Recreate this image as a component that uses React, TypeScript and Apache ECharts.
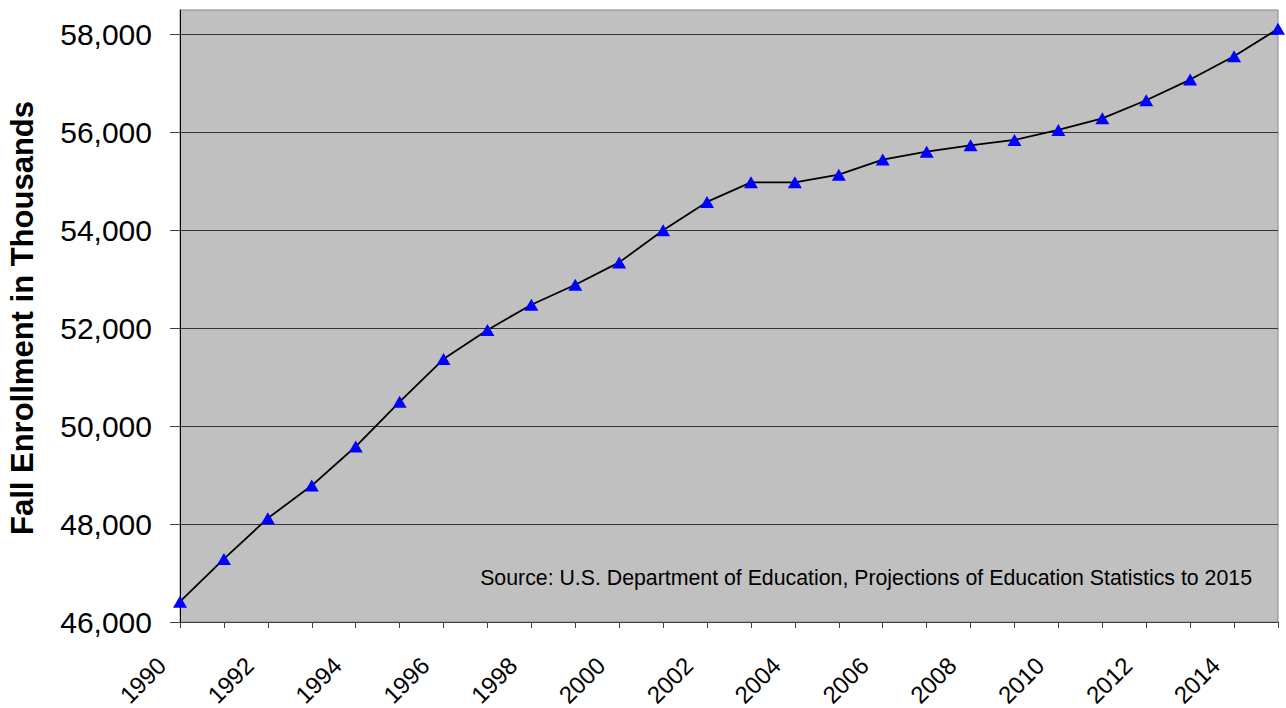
import React, { useEffect, useRef } from "react";
import * as echarts from "echarts";

const years = [
  "1990", "1991", "1992", "1993", "1994", "1995", "1996", "1997", "1998", "1999",
  "2000", "2001", "2002", "2003", "2004", "2005", "2006", "2007", "2008", "2009",
  "2010", "2011", "2012", "2013", "2014", "2015",
];
const enrollment = [
  46415, 47288, 48120, 48786, 49584, 50497, 51370, 51965, 52480, 52889,
  53345, 54000, 54580, 54980, 54980, 55137, 55444, 55607, 55737, 55846,
  56051, 56288, 56656, 57079, 57556, 58115,
];
const yTicks = [46000, 48000, 50000, 52000, 54000, 56000, 58000];
const yTitle = "Fall Enrollment in Thousands";
const sourceNote =
  "Source: U.S. Department of Education, Projections of Education Statistics to 2015";

const FONT = "'Liberation Sans', Arial, sans-serif";

export default function App() {
  const ref = useRef<HTMLDivElement>(null);
  useEffect(() => {
    if (!ref.current) return;
    const chart = echarts.init(ref.current, undefined, { renderer: "svg" });
    chart.setOption({
      animation: false,
      backgroundColor: "#ffffff",
      grid: {
        left: 180,
        top: 10,
        right: 8,
        bottom: 86,
        containLabel: false,
        outerBoundsMode: "none",
        show: true,
        backgroundColor: "#c0c0c0",
        borderColor: "#888888",
        borderWidth: 1,
      },
      xAxis: {
        type: "category",
        data: years,
        boundaryGap: false,
        axisLine: { show: true, lineStyle: { color: "#404040", width: 1 } },
        axisTick: {
          show: true,
          interval: 0,
          length: 6,
          lineStyle: { color: "#404040" },
        },
        axisLabel: {
          interval: 1,
          rotate: 45,
          margin: 21,
          padding: [0, 26, 0, 0],
          fontSize: 24,
          fontFamily: FONT,
          color: "#000000",
        },
        splitLine: { show: false },
      },
      yAxis: {
        type: "value",
        min: 46000,
        max: 58500,
        interval: 2000,
        axisLine: { show: true, lineStyle: { color: "#000000", width: 1 } },
        axisTick: {
          show: true,
          length: 10,
          customValues: yTicks,
          lineStyle: { color: "#404040" },
        },
        axisLabel: {
          customValues: yTicks,
          margin: 28,
          fontSize: 30,
          fontFamily: FONT,
          color: "#000000",
          formatter: (v: number) => v.toLocaleString("en-US"),
        },
        splitLine: { show: true, lineStyle: { color: "#333333", width: 1 } },
      },
      series: [
        {
          type: "line",
          data: enrollment,
          symbol: "triangle",
          symbolSize: [14, 12],
          itemStyle: { color: "#0000ff" },
          lineStyle: { color: "#000000", width: 1.8 },
        },
      ],
      graphic: [
        {
          type: "text",
          x: 22,
          y: 318,
          rotation: Math.PI / 2,
          style: {
            text: yTitle,
            font: `bold 31px ${FONT}`,
            fill: "#000000",
            textAlign: "center",
            textVerticalAlign: "middle",
          },
        },
        {
          type: "text",
          x: 1252,
          y: 578,
          style: {
            text: sourceNote,
            font: `21.3px ${FONT}`,
            fill: "#000000",
            textAlign: "right",
            textVerticalAlign: "middle",
          },
        },
      ],
    });
    return () => chart.dispose();
  }, []);
  return (
    <div
      ref={ref}
      style={{ position: "fixed", left: 0, top: 0, width: 1286, height: 708 }}
    />
  );
}
